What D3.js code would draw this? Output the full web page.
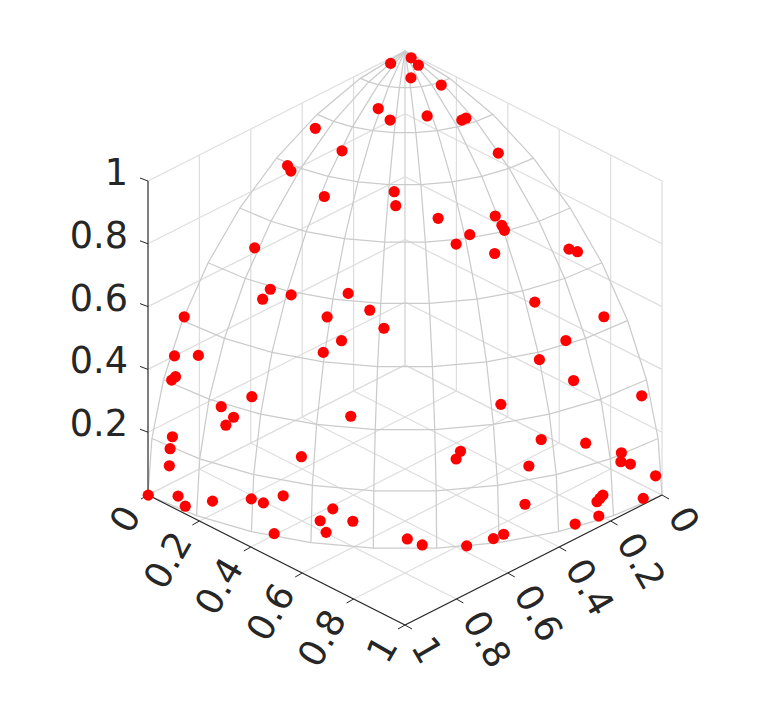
<!DOCTYPE html><html><head><meta charset="utf-8"><style>html,body{margin:0;background:#fff}svg{display:block}text{font-family:"DejaVu Sans";fill:#262626}</style></head><body><svg id="c" width="781" height="703"></svg>
<script src="https://cdn.jsdelivr.net/npm/d3@7"></script>
<script>
const xValues=[0.016,0.037,0.077,0.104,0.181,0.127,0.181,0.242,0.311,0.313,0.444,0.149,0.031,0.047,0.067,0.201,0.345,0.374,0.112,0.216,0.209,0.277,0.410,0.001,0.392,0.478,0.529,0.452,0.423,0.014,0.090,0.476,0.565,0.591,0.603,0.557,0.550,0.626,0.714,0.727,0.751,0.844,0.835,0.823,0.883,0.951,0.810,0.038,0.028,0.205,0.249,0.232,0.284,0.542,0.071,0.069,0.073,0.453,0.890,0.941,0.778,0.775,0.888,0.975,0.978,0.985,0.997,0.001,0.110,0.136,0.224,0.338,0.372,0.423,0.548,0.521,0.536,0.405,0.596,0.711,0.740,0.817,0.858,0.872,0.897,0.956,0.975,0.997,0.976,0.974,0.972];
const yValues=[0.072,0.013,0.025,0.081,0.040,0.231,0.239,0.156,0.090,0.076,0.081,0.394,0.380,0.504,0.511,0.515,0.387,0.410,0.697,0.740,0.763,0.720,0.631,0.860,0.695,0.615,0.611,0.699,0.741,0.911,0.894,0.347,0.214,0.214,0.216,0.305,0.351,0.277,0.076,0.056,0.246,0.070,0.209,0.300,0.227,0.030,0.437,0.931,0.936,0.920,0.916,0.929,0.880,0.753,0.976,0.983,0.990,0.856,0.360,0.238,0.562,0.576,0.406,0.133,0.138,0.108,0.022,1.000,0.993,0.991,0.973,0.936,0.923,0.897,0.829,0.851,0.843,0.914,0.799,0.702,0.673,0.577,0.514,0.488,0.430,0.294,0.221,0.070,0.206,0.215,0.225];
const zValues=[0.997,0.999,0.997,0.991,0.983,0.965,0.954,0.958,0.946,0.947,0.892,0.907,0.924,0.863,0.857,0.833,0.855,0.832,0.708,0.637,0.612,0.636,0.659,0.510,0.603,0.627,0.589,0.554,0.522,0.412,0.438,0.808,0.797,0.778,0.768,0.772,0.758,0.729,0.696,0.685,0.613,0.532,0.510,0.482,0.410,0.308,0.391,0.364,0.351,0.333,0.316,0.289,0.381,0.373,0.205,0.169,0.119,0.250,0.280,0.239,0.280,0.260,0.214,0.179,0.154,0.137,0.069,0.000,0.039,0.017,0.062,0.101,0.097,0.130,0.112,0.072,0.038,0.009,0.080,0.031,0.012,0.001,0.015,0.024,0.106,0.011,0.014,0.017,0.075,0.068,0.060];
const horizontalTicks=[0,0.2,0.4,0.6,0.8,1];
const horizontalTickLabels=["0","0.2","0.4","0.6","0.8","1"];
const zTicks=[0.2,0.4,0.6,0.8,1];
const zTickLabels=["0.2","0.4","0.6","0.8","1"];
const gridTicks=[0,0.2,0.4,0.6,0.8,1];
const meshLatitudes=[0,10,20,30,40,50,60,70,80,90];
const meshLongitudes=[0,10,20,30,40,50,60,70,80,90];

const INK="#262626",GRID="#dedede",MESH="#cbcbcb";
const xToH=d3.scaleLinear([0,1],[0,257]),yToH=d3.scaleLinear([0,1],[0,-257]);
const xyToV=d3.scaleLinear([0,1],[0,130]),zToV=d3.scaleLinear([0,1],[0,-314]);
const OX=405,OY=365;
const px=(x,y)=>OX+xToH(x)+yToH(y);
const py=(x,y,z)=>OY+xyToV(x)+xyToV(y)+zToV(z);
const svg=d3.select("#c");
const line=d3.line().x(d=>px(d[0],d[1])).y(d=>py(d[0],d[1],d[2]));
const path=(g,pts,col,w=1.25)=>g.append("path").attr("d",line(pts)).attr("fill","none").attr("stroke",col).attr("stroke-width",w);

// back walls and floor grid
const grid=svg.append("g");
gridTicks.forEach(t=>{
  path(grid,[[t,0,0],[t,1,0]],GRID);
  path(grid,[[0,t,0],[1,t,0]],GRID);
  path(grid,[[0,t,0],[0,t,1]],GRID);
  path(grid,[[t,0,0],[t,0,1]],GRID);
  path(grid,[[0,1,t],[0,0,t],[1,0,t]],GRID);
});

// mesh (octant of the unit sphere)
const rad=d=>d*Math.PI/180;
const sph=(lat,lon)=>[Math.cos(rad(lat))*Math.cos(rad(lon)),Math.cos(rad(lat))*Math.sin(rad(lon)),Math.sin(rad(lat))];
const mesh=svg.append("g");
meshLatitudes.forEach(lat=>path(mesh,meshLongitudes.map(lon=>sph(lat,lon)),MESH));
meshLongitudes.forEach(lon=>path(mesh,meshLatitudes.map(lat=>sph(lat,lon)),MESH));

// axes
const ax=svg.append("g");
path(ax,[[0,1,0],[0,1,1]],INK,1.1);
path(ax,[[0,1,0],[1,1,0]],INK,1.1);
path(ax,[[1,0,0],[1,1,0]],INK,1.1);
const tick=(x,y,z,dx,dy)=>ax.append("line").attr("x1",px(x,y)).attr("y1",py(x,y,z)).attr("x2",px(x,y)+dx).attr("y2",py(x,y,z)+dy).attr("stroke",INK);
const FS=36.6;
horizontalTicks.forEach((t,i)=>{
  tick(t,1,0,-7,4);
  tick(1,t,0,7,4);
  const lx=px(t,1)-17,ly=py(t,1,0)+14;
  ax.append("text").attr("transform",`translate(${lx},${ly}) rotate(-60)`).attr("text-anchor","end").attr("font-size",FS).attr("dominant-baseline","central").text(horizontalTickLabels[i]);
  const rx=px(1,t)+16,ry=py(1,t,0)+15;
  ax.append("text").attr("transform",`translate(${rx},${ry}) rotate(60)`).attr("text-anchor","start").attr("font-size",FS).attr("dominant-baseline","central").text(horizontalTickLabels[i]);
});
zTicks.forEach((t,i)=>{
  tick(0,1,t,-8,-3);
  ax.append("text").attr("x",128).attr("y",py(0,1,t)+4).attr("text-anchor","end").attr("font-size",FS).text(zTickLabels[i]);
});

// scatter
svg.append("g").selectAll("circle").data(xValues).join("circle")
  .attr("cx",(d,i)=>px(d,yValues[i])).attr("cy",(d,i)=>py(d,yValues[i],zValues[i]))
  .attr("r",5.6).attr("fill","#ff0000");
</script></body></html>
